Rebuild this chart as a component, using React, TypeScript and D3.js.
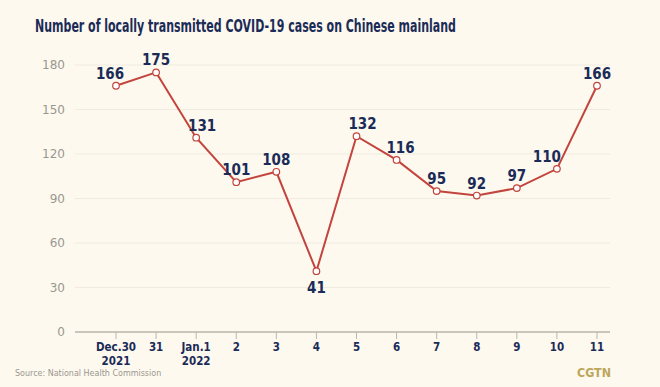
import React, { useEffect, useRef } from 'react'
import * as d3 from 'd3'

const dates = ['Dec.30', '31', 'Jan.1', '2', '3', '4', '5', '6', '7', '8', '9', '10', '11']
const years = ['2021', '', '2022', '', '', '', '', '', '', '', '', '', '']
const cases = [166, 175, 131, 101, 108, 41, 132, 116, 95, 92, 97, 110, 166]
const yTicks = [0, 30, 60, 90, 120, 150, 180]
// horizontal nudges for value labels so they clear the line
const labelShift = [-6, 0, 6, 0, 0, 0, 6, 4, 0, 0, 0, -10, 0]

const W = 660
const H = 387
const navy = '#1b2b57'
const red = '#c3443c'
const sans = '"DejaVu Sans", sans-serif'

const App = () => {
  const svgRef = useRef<SVGSVGElement>(null)

  useEffect(() => {
    const svg = d3.select(svgRef.current)
    svg.selectAll('*').remove()

    svg.append('rect').attr('width', W).attr('height', H).style('fill', '#fdf9ef')

    const x = d3.scalePoint<string>().domain(dates).range([116, 597])
    const y = d3.scaleLinear().domain([0, 180]).range([332, 65])

    // title
    svg
      .append('text')
      .attr('x', 35)
      .attr('y', 32)
      .attr('textLength', 421)
      .attr('lengthAdjust', 'spacingAndGlyphs')
      .style('font', `bold condensed 17.5px ${sans}`)
      .style('fill', navy)
      .text('Number of locally transmitted COVID-19 cases on Chinese mainland')

    // grid
    svg
      .selectAll('.grid')
      .data(yTicks.filter(d => d > 0))
      .enter()
      .append('line')
      .attr('x1', 75)
      .attr('x2', 610)
      .attr('y1', d => y(d))
      .attr('y2', d => y(d))
      .style('stroke', '#efebe0')
      .style('stroke-width', 1)

    svg
      .selectAll('.ytick')
      .data(yTicks)
      .enter()
      .append('text')
      .attr('x', 65)
      .attr('y', d => y(d) + 4)
      .style('text-anchor', 'end')
      .style('font', `12px ${sans}`)
      .style('fill', '#9a978f')
      .text(d => d)

    // x axis
    svg
      .append('line')
      .attr('x1', 75)
      .attr('x2', 610)
      .attr('y1', 332)
      .attr('y2', 332)
      .style('stroke', '#c9c6be')
      .style('stroke-width', 2)

    dates.forEach((d, i) => {
      const xp = x(d) as number
      svg
        .append('line')
        .attr('x1', xp)
        .attr('x2', xp)
        .attr('y1', 332)
        .attr('y2', 339)
        .style('stroke', '#b9b6ae')
        .style('stroke-width', 1)
      svg
        .append('text')
        .attr('x', xp)
        .attr('y', 351)
        .style('text-anchor', 'middle')
        .style('font', `bold condensed 11.5px ${sans}`)
        .style('fill', navy)
        .text(d)
      if (years[i]) {
        svg
          .append('text')
          .attr('x', xp)
          .attr('y', 365)
          .style('text-anchor', 'middle')
          .style('font', `bold condensed 11.5px ${sans}`)
          .style('fill', navy)
          .text(years[i])
      }
    })

    const line = d3
      .line<number>()
      .x((d, i) => x(dates[i]) as number)
      .y(d => y(d))

    svg
      .append('path')
      .datum(cases)
      .attr('d', line)
      .style('fill', 'none')
      .style('stroke', red)
      .style('stroke-width', 2)

    svg
      .selectAll('.dot')
      .data(cases)
      .enter()
      .append('circle')
      .attr('cx', (d, i) => x(dates[i]) as number)
      .attr('cy', d => y(d))
      .attr('r', 3.3)
      .style('fill', '#fff')
      .style('stroke', red)
      .style('stroke-width', 1.2)

    svg
      .selectAll('.lbl')
      .data(cases)
      .enter()
      .append('text')
      .attr('x', (d, i) => (x(dates[i]) as number) + labelShift[i])
      .attr('y', (d, i) => (i === 5 ? y(d) + 22 : y(d) - 7))
      .style('text-anchor', 'middle')
      .style('font', `bold condensed 15px ${sans}`)
      .style('fill', navy)
      .text(d => d)

    svg
      .append('text')
      .attr('x', 15)
      .attr('y', 376)
      .style('font', `8px ${sans}`)
      .style('fill', '#9a978f')
      .text('Source: National Health Commission')

    svg
      .append('text')
      .attr('x', 611)
      .attr('y', 377)
      .attr('textLength', 34)
      .attr('lengthAdjust', 'spacingAndGlyphs')
      .style('text-anchor', 'end')
      .style('font', `bold 13px ${sans}`)
      .style('fill', '#bba65a')
      .text('CGTN')
  }, [])

  return (
    <div style={{ position: 'absolute', left: 0, top: 0 }}>
      <svg ref={svgRef} width={W} height={H}></svg>
    </div>
  )
}

export default App
